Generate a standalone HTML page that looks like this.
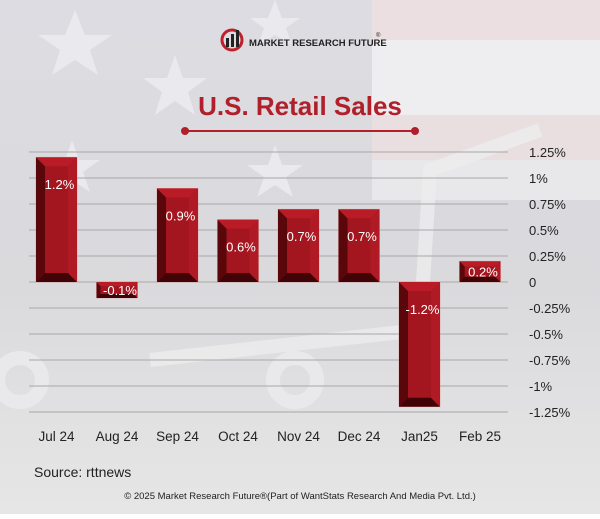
<!DOCTYPE html>
<html><head><meta charset="utf-8"><style>
body{margin:0;width:600px;height:514px;overflow:hidden;font-family:"Liberation Sans",sans-serif}
#root{position:relative;width:600px;height:514px;background:#e3e3e5}
</style></head><body>
<div id="root">
<svg id="svg" width="600" height="514">
 <defs>
  <linearGradient id="bg" x1="0" y1="0" x2="0" y2="1">
   <stop offset="0" stop-color="#dcdce2"/><stop offset="0.55" stop-color="#dadadd"/><stop offset="1" stop-color="#e6e6e6"/>
  </linearGradient>
 </defs>
 <rect x="0" y="0" width="600" height="514" fill="url(#bg)"/>
 <g>
  <rect x="372" y="0" width="228" height="40" fill="#ecdfe1"/>
  <rect x="372" y="40" width="228" height="75" fill="#eeedef"/>
  <rect x="372" y="115" width="228" height="45" fill="#e9dfe1"/>
  <rect x="372" y="160" width="228" height="40" fill="#e8e8ea"/>
 </g>
 <g fill="#e9e9ee">
  <polygon points="75,10 85,35 112,35 90,50 98,75 75,60 52,75 60,50 38,35 65,35"/>
  <polygon points="175,55 183,78 207,78 188,92 195,115 175,101 155,115 162,92 143,78 167,78"/>
  <polygon points="72,140 79,160 100,160 83,172 90,192 72,180 54,192 61,172 44,160 65,160"/>
  <polygon points="275,145 282,165 303,165 286,177 293,197 275,185 257,197 264,177 247,165 268,165"/>
  <polygon points="275,0 282,18 300,18 286,28 292,45 275,35 258,45 264,28 250,18 268,18"/>
 </g>
 <g fill="none" stroke="#ececee" stroke-width="14" opacity="0.8">
  <path d="M540,130 L430,170 L420,330 L150,360"/>
  <circle cx="295" cy="380" r="22"/><circle cx="20" cy="380" r="22"/>
 </g>
 <g>
  <circle cx="232" cy="40" r="10" fill="none" stroke="#c0202a" stroke-width="3"/>
  <rect x="226" y="38" width="3" height="9" fill="#222"/><rect x="231" y="34" width="3" height="13" fill="#222"/><rect x="236" y="30" width="3" height="17" fill="#222"/>
  <text x="249" y="46" font-size="9.5" font-weight="bold" fill="#222">MARKET RESEARCH FUTURE</text>
  <text x="376" y="37" font-size="6" fill="#222">®</text>
 </g>
 <text x="300" y="115" text-anchor="middle" font-size="26" font-weight="bold" fill="#b01f2a">U.S. Retail Sales</text>
 <g>
  <line x1="185" y1="131" x2="415" y2="131" stroke="#b01f2a" stroke-width="2"/>
  <circle cx="185" cy="131" r="4" fill="#b01f2a"/><circle cx="415" cy="131" r="4" fill="#b01f2a"/>
 </g>
 <g id="grid"></g><g id="bars"></g><g id="labels"></g>
 <text x="34" y="477" font-size="14" fill="#222">Source: rttnews</text>
 <text x="300" y="499" text-anchor="middle" font-size="9.5" fill="#222">© 2025 Market Research Future®(Part of WantStats Research And Media Pvt. Ltd.)</text>
</svg>
</div>
<script>
const categories=["Jul 24","Aug 24","Sep 24","Oct 24","Nov 24","Dec 24","Jan25","Feb 25"];
const values=[1.2,-0.1,0.9,0.6,0.7,0.7,-1.2,0.2];
const valueLabels=["1.2%","-0.1%","0.9%","0.6%","0.7%","0.7%","-1.2%","0.2%"];
const tickValues=[1.25,1,0.75,0.5,0.25,0,-0.25,-0.5,-0.75,-1,-1.25];
const tickLabels=["1.25%","1%","0.75%","0.5%","0.25%","0","-0.25%","-0.5%","-0.75%","-1%","-1.25%"];
const NS="http://www.w3.org/2000/svg";
const y=v=>282-v*104;
const xl=i=>36+i*60.5;
const BW=41,BV=9,MINH=16;
function mk(t,a,p){const e=document.createElementNS(NS,t);for(const k in a)e.setAttribute(k,a[k]);p.appendChild(e);return e;}
const grid=document.getElementById('grid'),bars=document.getElementById('bars'),labels=document.getElementById('labels');
tickValues.forEach((v,i)=>{
 const l=mk('line',{x1:29,x2:508,y1:y(v),y2:y(v),stroke:'#a8a8a8','stroke-width':1},grid);
 
 
 const t=mk('text',{x:529,y:y(v)+5,'font-size':13,fill:'#222'},grid);
 t.textContent=tickLabels[i];
 
 
});
values.forEach((v,i)=>{
 const x0=xl(i),x1=x0+BW;
 let t=Math.min(y(v),y(0)),b=Math.max(y(v),y(0));
 if(b-t<MINH){ if(v>=0) t=b-MINH; else b=t+MINH; }
 const h=b-t,bv=Math.min(BV,h/4);
 const g=mk('g',{},bars);
 
 
 mk('rect',{x:x0,y:t,width:BW,height:h,fill:'#a3151f',stroke:'#d99',"stroke-width":0.6},g);
 mk('polygon',{points:`${x0},${t} ${x0+bv},${t+bv} ${x0+bv},${b-bv} ${x0},${b}`,fill:'#5a070c'},g);
 mk('polygon',{points:`${x0},${b} ${x0+bv},${b-bv} ${x1-bv},${b-bv} ${x1},${b}`,fill:'#420306'},g);
 mk('polygon',{points:`${x0},${t} ${x1},${t} ${x1-bv},${t+bv} ${x0+bv},${t+bv}`,fill:'#b91c26'},g);
 mk('polygon',{points:`${x1},${t} ${x1},${b} ${x1-bv},${b-bv} ${x1-bv},${t+bv}`,fill:'#b01a24'},g);
 const ly=h>40?t+32:t+h/2+5;
 const lt=mk('text',{x:x0+BW/2+3,y:ly,'text-anchor':'middle','font-size':13,fill:'#fff'},labels);
 lt.textContent=valueLabels[i];
 
 
 const ct=mk('text',{x:x0+BW/2,y:441,'text-anchor':'middle','font-size':13.5,fill:'#222'},labels);
 ct.textContent=categories[i];
 
 
});
</script>
</body></html>
